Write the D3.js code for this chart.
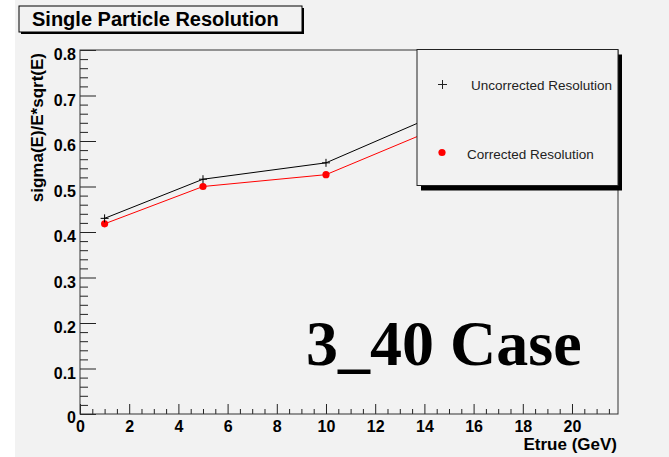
<!DOCTYPE html>
<html>
<head>
<script src="https://d3js.org/d3.v7.min.js"></script>
<style>
  body { margin: 0; background: #f2f2f2; }
  svg { display: block; }
</style>
</head>
<body>
<div id="chart"></div>
<script>
// data
var energies = [1, 5, 10, 20];
var uncorrected = [0.430, 0.516, 0.552, 0.786];
var corrected = [0.418, 0.500, 0.526, 0.752];
var xMajor = [0, 2, 4, 6, 8, 10, 12, 14, 16, 18, 20];
var yMajor = [0, 0.1, 0.2, 0.3, 0.4, 0.5, 0.6, 0.7, 0.8];
var legendLabels = ["Uncorrected Resolution", "Corrected Resolution"];

var W = 669, H = 457;
var frame = {left: 80, top: 50, right: 618, bottom: 414};

var svg = d3.select("#chart").append("svg")
    .attr("width", W)
    .attr("height", H);

svg.append("rect").attr("width", W).attr("height", H).attr("fill", "#f2f2f2");
svg.append("rect").attr("width", 15).attr("height", H).attr("fill", "#ffffff");

var x = d3.scaleLinear().domain([0, 21.87]).range([frame.left, frame.right]);
var y = d3.scaleLinear().domain([0, 0.8]).range([frame.bottom, frame.top]);

// minor ticks
var xMinor = d3.range(0, 21.87, 0.5).filter(function(v) { return v % 2 != 0; });
var yMinor = d3.range(0, 0.801, 0.02).filter(function(v) { return Math.abs(v * 10 - Math.round(v * 10)) > 0.01; });

svg.append("g")
    .attr("transform", "translate(0," + frame.bottom + ")")
    .call(d3.axisBottom(x).tickValues(xMinor).tickSize(-5).tickFormat(""))
    .call(function(g) { g.select(".domain").remove(); });
svg.append("g")
    .attr("transform", "translate(" + frame.left + ",0)")
    .call(d3.axisLeft(y).tickValues(yMinor).tickSize(-8).tickFormat(""))
    .call(function(g) { g.select(".domain").remove(); });

var xAxis = svg.append("g")
    .attr("transform", "translate(0," + frame.bottom + ")")
    .call(d3.axisBottom(x).tickValues(xMajor).tickSize(-10).tickPadding(7).tickFormat(d3.format("d")));
xAxis.select(".domain").remove();

var yAxis = svg.append("g")
    .attr("transform", "translate(" + frame.left + ",0)")
    .call(d3.axisLeft(y).tickValues(yMajor).tickSize(-16).tickPadding(4)
        .tickFormat(function(d) { return d == 0 ? "0" : d3.format(".1f")(d); }));
yAxis.select(".domain").remove();

svg.selectAll(".tick line").attr("stroke", "#222");
xAxis.selectAll("text").attr("font-size", 16);
yAxis.selectAll("text").attr("font-size", 16).attr("dy", "0.6em");
yAxis.selectAll(".tick").filter(function(d) { return d == 0; }).select("text").attr("dy", "0.5em");
svg.selectAll(".tick text")
    .attr("font-family", "Liberation Sans, Arial, sans-serif")
    .attr("font-weight", "bold")
    .attr("fill", "#000");

// frame
svg.append("rect")
    .attr("x", frame.left).attr("y", frame.top)
    .attr("width", frame.right - frame.left).attr("height", frame.bottom - frame.top)
    .attr("fill", "none").attr("stroke", "#333").attr("stroke-width", 1);

// lines
var line = d3.line()
    .x(function(d) { return x(d[0]); })
    .y(function(d) { return y(d[1]); });

var black = d3.zip(energies, uncorrected);
var red = d3.zip(energies, corrected);

svg.append("path").datum(black).attr("d", line)
    .attr("fill", "none").attr("stroke", "#000").attr("stroke-width", 1);
svg.append("path").datum(red).attr("d", line)
    .attr("fill", "none").attr("stroke", "#ff0000").attr("stroke-width", 1);

svg.selectAll(".dot").data(red).enter().append("circle")
    .attr("class", "dot")
    .attr("cx", function(d) { return x(d[0]); })
    .attr("cy", function(d) { return y(d[1]); })
    .attr("r", 3.6)
    .attr("fill", "#ff0000");

var plus = d3.symbol().type(d3.symbolCross);
svg.selectAll(".plus").data(black).enter().append("path")
    .attr("class", "plus")
    .attr("transform", function(d) { return "translate(" + x(d[0]) + "," + y(d[1]) + ")"; })
    .attr("d", "M-4,0H4M0,-4V4")
    .attr("stroke", "#000").attr("stroke-width", 1);

// legend
var lg = {x: 417, y: 49.5, w: 201, h: 136};
svg.append("rect").attr("x", lg.x + 4).attr("y", lg.y + 5)
    .attr("width", lg.w).attr("height", lg.h).attr("fill", "#000");
svg.append("rect").attr("x", lg.x).attr("y", lg.y)
    .attr("width", lg.w).attr("height", lg.h)
    .attr("fill", "#f2f2f2").attr("stroke", "#222").attr("stroke-width", 1);

svg.append("path")
    .attr("d", "M" + (lg.x + 21) + "," + (lg.y + 35) + "h9M" + (lg.x + 25.5) + "," + (lg.y + 30.5) + "v9")
    .attr("stroke", "#222").attr("stroke-width", 1);
svg.append("circle").attr("cx", lg.x + 25).attr("cy", lg.y + 103).attr("r", 3.6).attr("fill", "#ff0000");

svg.selectAll(".leg").data(legendLabels).enter().append("text")
    .attr("x", function(d, i) { return i == 0 ? lg.x + 54 : lg.x + 50; })
    .attr("y", function(d, i) { return i == 0 ? lg.y + 40 : lg.y + 109; })
    .attr("font-family", "Liberation Sans, Arial, sans-serif")
    .attr("font-size", 13.5)
    .attr("fill", "#222")
    .text(function(d) { return d; });

// axis titles
svg.append("text")
    .attr("x", 617).attr("y", 450)
    .attr("text-anchor", "end")
    .attr("font-family", "Liberation Sans, Arial, sans-serif")
    .attr("font-weight", "bold").attr("font-size", 17)
    .text("Etrue (GeV)");

svg.append("text")
    .attr("transform", "translate(43,53) rotate(-90)")
    .attr("text-anchor", "end")
    .attr("font-family", "Liberation Sans, Arial, sans-serif")
    .attr("font-weight", "bold").attr("font-size", 17)
    .text("sigma(E)/E*sqrt(E)");

// title box
svg.append("rect").attr("x", 21).attr("y", 8).attr("width", 283).attr("height", 26).attr("fill", "#000");
svg.append("rect").attr("x", 19).attr("y", 6).attr("width", 283).attr("height", 26)
    .attr("fill", "#f2f2f2").attr("stroke", "#000").attr("stroke-width", 1);
svg.append("text")
    .attr("x", 32).attr("y", 26)
    .attr("font-family", "Liberation Sans, Arial, sans-serif")
    .attr("font-weight", "bold").attr("font-size", 20)
    .text("Single Particle Resolution");

svg.append("text")
    .attr("x", 306).attr("y", 365)
    .attr("font-family", "Liberation Serif, Times New Roman, serif")
    .attr("font-weight", "bold").attr("font-size", 64)
    .text("3_40 Case");
</script>
</body>
</html>
